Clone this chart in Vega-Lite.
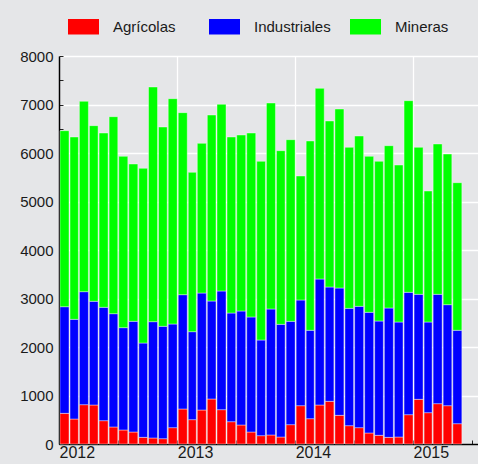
{
  "$schema": "https://vega.github.io/schema/vega-lite/v6.json",
  "width": 419,
  "height": 388,
  "autosize": {"type": "none"},
  "padding": {"left": 59, "top": 56, "right": 0, "bottom": 20},
  "background": "#e5e6e8",
  "config": {
    "view": {"stroke": null, "fill": "#e5e6e8"},
    "font": "Liberation Sans",
    "axis": {"labelFont": "Liberation Sans", "labelColor": "#1a1a1a"},
    "legend": {"labelFont": "Liberation Sans"}
  },
  "data": {
    "values": [
      {"mes": "2012-01-01", "Agrícolas": 632, "Industriales": 2199, "Mineras": 3629},
      {"mes": "2012-02-01", "Agrícolas": 515, "Industriales": 2055, "Mineras": 3760},
      {"mes": "2012-03-01", "Agrícolas": 811, "Industriales": 2330, "Mineras": 3925},
      {"mes": "2012-04-01", "Agrícolas": 804, "Industriales": 2138, "Mineras": 3622},
      {"mes": "2012-05-01", "Agrícolas": 481, "Industriales": 2337, "Mineras": 3594},
      {"mes": "2012-06-01", "Agrícolas": 351, "Industriales": 2336, "Mineras": 4062},
      {"mes": "2012-07-01", "Agrícolas": 289, "Industriales": 2110, "Mineras": 3532},
      {"mes": "2012-08-01", "Agrícolas": 247, "Industriales": 2282, "Mineras": 3244},
      {"mes": "2012-09-01", "Agrícolas": 137, "Industriales": 1945, "Mineras": 3602},
      {"mes": "2012-10-01", "Agrícolas": 124, "Industriales": 2398, "Mineras": 4839},
      {"mes": "2012-11-01", "Agrícolas": 110, "Industriales": 2316, "Mineras": 4110},
      {"mes": "2012-12-01", "Agrícolas": 337, "Industriales": 2137, "Mineras": 4646},
      {"mes": "2013-01-01", "Agrícolas": 722, "Industriales": 2357, "Mineras": 3753},
      {"mes": "2013-02-01", "Agrícolas": 502, "Industriales": 1814, "Mineras": 3285},
      {"mes": "2013-03-01", "Agrícolas": 701, "Industriales": 2412, "Mineras": 3086},
      {"mes": "2013-04-01", "Agrícolas": 928, "Industriales": 2020, "Mineras": 3835},
      {"mes": "2013-05-01", "Agrícolas": 708, "Industriales": 2447, "Mineras": 3849},
      {"mes": "2013-06-01", "Agrícolas": 460, "Industriales": 2241, "Mineras": 3629},
      {"mes": "2013-07-01", "Agrícolas": 392, "Industriales": 2350, "Mineras": 3629},
      {"mes": "2013-08-01", "Agrícolas": 247, "Industriales": 2372, "Mineras": 3793},
      {"mes": "2013-09-01", "Agrícolas": 172, "Industriales": 1972, "Mineras": 3684},
      {"mes": "2013-10-01", "Agrícolas": 186, "Industriales": 2598, "Mineras": 4247},
      {"mes": "2013-11-01", "Agrícolas": 144, "Industriales": 2323, "Mineras": 3581},
      {"mes": "2013-12-01", "Agrícolas": 399, "Industriales": 2130, "Mineras": 3746},
      {"mes": "2014-01-01", "Agrícolas": 790, "Industriales": 2179, "Mineras": 2557},
      {"mes": "2014-02-01", "Agrícolas": 522, "Industriales": 1822, "Mineras": 3904},
      {"mes": "2014-03-01", "Agrícolas": 804, "Industriales": 2598, "Mineras": 3931},
      {"mes": "2014-04-01", "Agrícolas": 880, "Industriales": 2357, "Mineras": 3423},
      {"mes": "2014-05-01", "Agrícolas": 591, "Industriales": 2625, "Mineras": 3691},
      {"mes": "2014-06-01", "Agrícolas": 378, "Industriales": 2419, "Mineras": 3320},
      {"mes": "2014-07-01", "Agrícolas": 337, "Industriales": 2501, "Mineras": 3512},
      {"mes": "2014-08-01", "Agrícolas": 227, "Industriales": 2488, "Mineras": 3216},
      {"mes": "2014-09-01", "Agrícolas": 179, "Industriales": 2357, "Mineras": 3292},
      {"mes": "2014-10-01", "Agrícolas": 137, "Industriales": 2667, "Mineras": 3347},
      {"mes": "2014-11-01", "Agrícolas": 144, "Industriales": 2371, "Mineras": 3237},
      {"mes": "2014-12-01", "Agrícolas": 605, "Industriales": 2522, "Mineras": 3952},
      {"mes": "2015-01-01", "Agrícolas": 921, "Industriales": 2165, "Mineras": 3031},
      {"mes": "2015-02-01", "Agrícolas": 646, "Industriales": 1869, "Mineras": 2701},
      {"mes": "2015-03-01", "Agrícolas": 832, "Industriales": 2254, "Mineras": 3100},
      {"mes": "2015-04-01", "Agrícolas": 790, "Industriales": 2083, "Mineras": 3106},
      {"mes": "2015-05-01", "Agrícolas": 419, "Industriales": 1925, "Mineras": 3044}
    ]
  },
  "transform": [
    {"fold": ["Agrícolas", "Industriales", "Mineras"], "as": ["tipo", "valor"]}
  ],
  "mark": {"type": "bar", "stroke": "#ffffff", "strokeOpacity": 0.4, "strokeWidth": 1},
  "encoding": {
    "x": {
      "field": "mes",
      "type": "temporal",
      "timeUnit": "utcyearmonth",
      "title": null,
      "scale": {"type": "utc", "domain": [{"year": 2012, "month": 1, "date": 1, "utc": true}, {"year": 2015, "month": 7, "date": 21, "utc": true}]},
      "axis": {
        "values": [
          {"year": 2012, "month": 1, "date": 1, "utc": true},
          {"year": 2012, "month": 7, "date": 1, "utc": true},
          {"year": 2013, "month": 1, "date": 1, "utc": true},
          {"year": 2013, "month": 7, "date": 1, "utc": true},
          {"year": 2014, "month": 1, "date": 1, "utc": true},
          {"year": 2014, "month": 7, "date": 1, "utc": true},
          {"year": 2015, "month": 1, "date": 1, "utc": true},
          {"year": 2015, "month": 7, "date": 1, "utc": true}
        ],
        "labelExpr": "utcmonth(datum.value) === 0 ? utcFormat(datum.value, '%Y') : ''",
        "labelAlign": "left",
        "labelDx": -3,
        "labelBaseline": "top",
        "labelFontSize": 16,
        "labelPadding": 4,
        "labelOverlap": false,
        "labelFlush": false,
        "labelBound": false,
        "domainColor": "#000000",
        "domainWidth": 1.5,
        "tickColor": "#222222",
        "tickSize": -4,
        "grid": true,
        "gridColor": "#ffffff",
        "gridWidth": 1.3,
        "gridOpacity": {"condition": {"test": "utcmonth(datum.value) === 0", "value": 1}, "value": 0}
      }
    },
    "y": {
      "field": "valor",
      "type": "quantitative",
      "stack": "zero",
      "title": null,
      "scale": {"domain": [0, 8000], "nice": false},
      "axis": {
        "values": [0, 500, 1000, 1500, 2000, 2500, 3000, 3500, 4000, 4500, 5000, 5500, 6000, 6500, 7000, 7500, 8000],
        "labelExpr": "datum.value % 1000 === 0 ? format(datum.value, 'd') : ''",
        "labelFontSize": 15,
        "labelPadding": 10,
        "labelOverlap": false,
        "domainColor": "#000000",
        "domainWidth": 1.5,
        "tickColor": "#222222",
        "tickSize": -4,
        "grid": true,
        "gridColor": "#ffffff",
        "gridWidth": 1.3,
        "gridOpacity": {"condition": {"test": "datum.value % 1000 === 0", "value": 1}, "value": 0}
      }
    },
    "color": {
      "field": "tipo",
      "type": "nominal",
      "title": null,
      "scale": {"domain": ["Agrícolas", "Industriales", "Mineras"], "range": ["#ff0000", "#0000ff", "#00ff00"]},
      "legend": {
        "orient": "none",
        "legendX": 9,
        "legendY": -45,
        "direction": "horizontal",
        "columns": 3,
        "gridAlign": "all",
        "columnPadding": 19,
        "padding": 0,
        "symbolType": "M-1,-0.5H1V0.5H-1Z",
        "symbolSize": 961,
        "symbolStrokeWidth": 0,
        "symbolOpacity": 1,
        "labelOffset": 14,
        "labelFontSize": 15,
        "labelColor": "#1a1a1a"
      }
    },
    "order": {"field": "tipo", "sort": "ascending"}
  }
}
